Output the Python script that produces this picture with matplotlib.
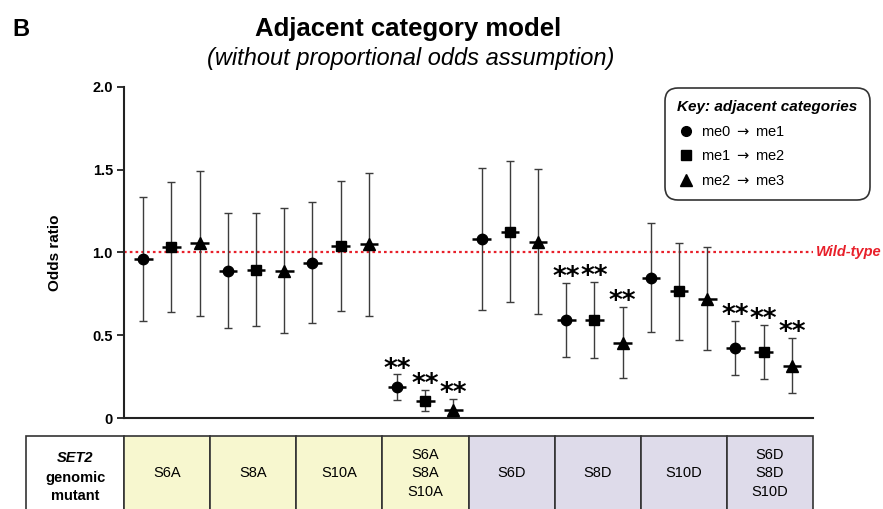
import matplotlib
matplotlib.use("Agg")
import matplotlib.pyplot as plt
import numpy as np
from matplotlib.lines import Line2D
from matplotlib.patches import Rectangle

plt.rcParams['font.family'] = ['Liberation Sans', 'DejaVu Sans']

# ---------------- data ----------------
mutants = ["S6A", "S8A", "S10A", "S6A\nS8A\nS10A", "S6D", "S8D", "S10D", "S6D\nS8D\nS10D"]
groups = ["me0 $\\rightarrow$ me1", "me1 $\\rightarrow$ me2", "me2 $\\rightarrow$ me3"]
odds = [0.961, 1.031, 1.060,
        0.888, 0.894, 0.890,
        0.939, 1.039, 1.051,
        0.185, 0.100, 0.050,
        1.083, 1.124, 1.065,
        0.593, 0.593, 0.454,
        0.848, 0.768, 0.720,
        0.422, 0.396, 0.316]
ci_low = [0.585, 0.641, 0.619,
          0.545, 0.553, 0.515,
          0.573, 0.647, 0.617,
          0.107, 0.040, 0.020,
          0.655, 0.699, 0.627,
          0.366, 0.360, 0.239,
          0.519, 0.470, 0.408,
          0.257, 0.233, 0.149]
ci_high = [1.337, 1.423, 1.493,
           1.238, 1.236, 1.266,
           1.307, 1.435, 1.483,
           0.263, 0.167, 0.117,
           1.508, 1.554, 1.505,
           0.814, 0.822, 0.671,
           1.176, 1.057, 1.033,
           0.585, 0.563, 0.482]
significant = [False] * 9 + [True] * 3 + [False] * 3 + [True] * 3 + [False] * 3 + [True] * 3
yticks = [0, 0.5, 1.0, 1.5, 2.0]
ytick_labels = ["0", "0.5", "1.0", "1.5", "2.0"]
col_colors = ["#f7f7cf"] * 4 + ["#dedbea"] * 4

markers = ["o", "s", "^"]
msizes = [7.5, 6.8, 8.5]

W, H = 883, 509
fig = plt.figure(figsize=(W / 100, H / 100), dpi=100)

ax_l, ax_r, ax_t, ax_b = 124, 813, 87, 418
ax = fig.add_axes([ax_l / W, 1 - ax_b / H, (ax_r - ax_l) / W, (ax_b - ax_t) / H])

odds = np.array(odds)
lo = np.array(ci_low)
hi = np.array(ci_high)
x = np.arange(len(odds))
err_col = "#3c3c3c"

ax.axhline(1.0, color="#e8202a", lw=1.6, ls=(0, (1.2, 1.4)), zorder=1)

for g in range(3):
    idx = x[g::3]
    ax.errorbar(idx, odds[g::3], yerr=[odds[g::3] - lo[g::3], hi[g::3] - odds[g::3]],
                fmt="none", ecolor=err_col, elinewidth=1.0, capsize=3, capthick=1.0, zorder=2)
    ax.hlines(odds[g::3], idx - 0.33, idx + 0.33, color="black", lw=1.8, zorder=3)
    ax.plot(idx, odds[g::3], ls="none", marker=markers[g], ms=msizes[g],
            color="black", zorder=4)

for xi, h, s in zip(x, hi, significant):
    if s:
        ax.annotate("**", (xi, h), xytext=(0, -1.5), textcoords="offset points",
                    ha="center", va="baseline", fontsize=19, family="DejaVu Sans",
                    fontweight="bold", color="black")

ax.set_xlim(-0.684, 23.75)
ax.set_ylim(0, 2.0)
ax.set_yticks(yticks)
ax.set_yticklabels(ytick_labels, fontsize=10.5, fontweight="bold")
ax.set_xticks([])
for sp in ["top", "right"]:
    ax.spines[sp].set_visible(False)
for sp in ["left", "bottom"]:
    ax.spines[sp].set_linewidth(1.5)
    ax.spines[sp].set_color("#222222")
ax.tick_params(axis="y", length=5, width=1.3, color="#222222", pad=3)
ax.set_ylabel("Odds ratio", fontsize=11, fontweight="bold", labelpad=22)

ax.text(1.004, 1.0, "Wild-type", transform=ax.get_yaxis_transform(), color="#e8202a",
        fontsize=10.5, fontweight="bold", fontstyle="italic", va="center", ha="left",
        clip_on=False)

# legend
handles = [Line2D([], [], ls="none", marker=m, ms=ms, color="black")
           for m, ms in zip(markers, [7, 6.5, 8])]
leg = ax.legend(handles, groups, loc="upper left", bbox_to_anchor=(665 / W, 1 - 88 / H),
                bbox_transform=fig.transFigure, borderaxespad=0, frameon=True, fancybox=True,
                title="Key: adjacent categories", alignment="left", fontsize=10.5,
                handletextpad=0.4, handlelength=1.2, labelspacing=0.72, borderpad=0.85)
leg.get_title().set_fontweight("bold")
leg.get_title().set_fontstyle("italic")
leg.get_title().set_fontsize(11)
frame = leg.get_frame()
frame.set_edgecolor("#333333")
frame.set_linewidth(1.2)
frame.set_boxstyle("round,pad=0,rounding_size=0.9")
frame.set_alpha(1)

# titles
fig.text(12 / W, 1 - 30 / H, "B", fontsize=17, fontweight="bold", va="center", ha="left")
fig.text(408 / W, 1 - 29 / H, "Adjacent category model", fontsize=18.5, fontweight="bold",
         ha="center", va="center")
fig.text(411 / W, 1 - 59 / H, "(without proportional odds assumption)", fontsize=17,
         fontstyle="italic", ha="center", va="center")

# table
t_left, t_top = 26.5, 436
tab = fig.add_axes([t_left / W, 0, (ax_r - t_left) / W, (H - t_top) / H])
cw = (ax_r - ax_l) / len(mutants)
lab_w = (ax_l - t_left) / cw
tab.set_xlim(-lab_w, len(mutants))
tab.set_ylim(0, 1)
tab.axis("off")
tab.add_patch(Rectangle((-lab_w, -0.2), lab_w, 1.2, facecolor="white", edgecolor="#333333",
                        lw=1.2, clip_on=False))
for i, (m, c) in enumerate(zip(mutants, col_colors)):
    tab.add_patch(Rectangle((i, -0.2), 1, 1.2, facecolor=c, edgecolor="#333333", lw=1.2,
                            clip_on=False))
    tab.text(i + 0.5, 0.49, m, ha="center", va="center", fontsize=10.5, linespacing=1.4)
tab.text(-lab_w / 2, 0.70, "SET2", ha="center", va="center", fontsize=10.5,
         fontweight="bold", fontstyle="italic")
tab.text(-lab_w / 2, 0.30, "genomic\nmutant", ha="center", va="center", fontsize=10.5,
         fontweight="bold", linespacing=1.4)

fig.savefig("out.png", dpi=100)
